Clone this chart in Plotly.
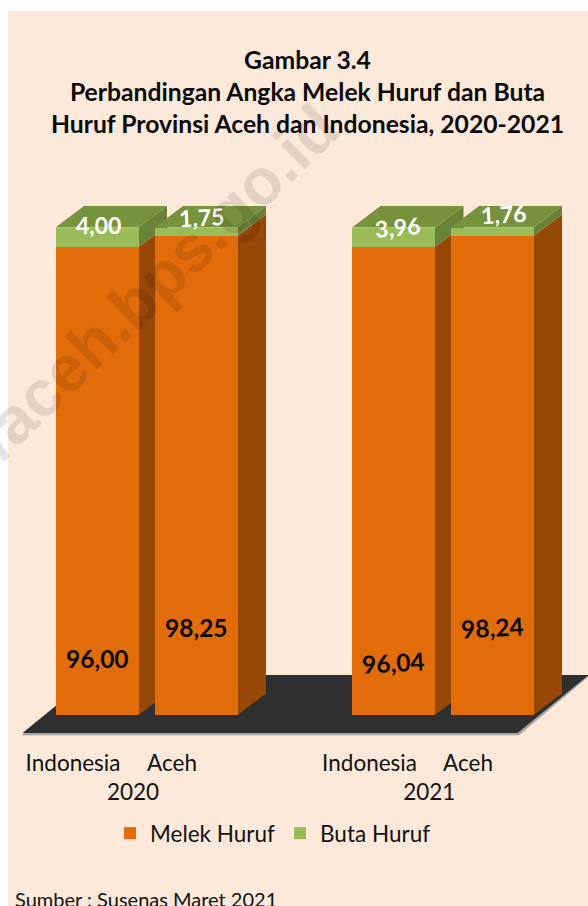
import plotly.graph_objects as go

# Literacy figures by year and region
categories = ["Indonesia", "Aceh", "Indonesia", "Aceh"]
years = ["2020", "2021"]
melek_huruf = [96.00, 98.25, 96.04, 98.24]
buta_huruf = [4.00, 1.75, 3.96, 1.76]

ORANGE, ORANGE_SIDE = "#E36C0A", "#974706"
GREEN, GREEN_TOP, GREEN_SIDE = "#9BBB59", "#76923C", "#6A8238"
PANEL = "#FDE9DA"
FONT = "Lato"

W, H = 588, 906
BASE_PX, PX_PER_UNIT = 715, 4.875
PLOT_BOTTOM_PX = 741

bar_centers = [97, 196, 393.5, 492]
bar_width = 83
depth_x, depth_y = 28.5, 21.5 / PX_PER_UNIT
label_shift = -24
floor_front, floor_back = -18 / PX_PER_UNIT, 40 / PX_PER_UNIT
floor_left, floor_right, floor_dx = 22.5, 517.5, 71


def fmt(v):
    return f"{v:.2f}".replace(".", ",")


def paper_y(px):
    # Paper fractions are measured over the plot area, which ends above the page bottom
    return 1 - px / PLOT_BOTTOM_PX


def poly(points, color):
    path = "M" + "L".join(f"{x},{y}" for x, y in points) + "Z"
    return dict(type="path", path=path, xref="x", yref="y", layer="below",
                fillcolor=color, line=dict(width=0))


shapes = [
    # Page panel
    dict(type="rect", xref="paper", yref="paper", x0=8 / W, x1=1, y0=paper_y(H), y1=paper_y(11),
         fillcolor=PANEL, line=dict(width=0), layer="below"),
    # Floor with its pale rim, then the dark surface
    poly([(floor_left - 1, floor_front - 0.45), (floor_right + 1.5, floor_front - 0.45),
          (floor_right + floor_dx + 2, floor_back),
          (floor_left + floor_dx, floor_back)], "#A8A39E"),
    poly([(floor_left, floor_front), (floor_right, floor_front),
          (floor_right + floor_dx, floor_back), (floor_left + floor_dx, floor_back)], "#2F2F2F"),
]

# Side and top faces of each stacked column, computed from its values
for cx, m, b in zip(bar_centers, melek_huruf, buta_huruf):
    xr = cx + bar_width / 2
    xl = cx - bar_width / 2
    total = m + b
    shapes.append(poly([(xr, 0), (xr + depth_x, depth_y), (xr + depth_x, m + depth_y), (xr, m)], ORANGE_SIDE))
    shapes.append(poly([(xr, m), (xr + depth_x, m + depth_y), (xr + depth_x, total + depth_y), (xr, total)], GREEN_SIDE))
    shapes.append(poly([(xl, total), (xr, total), (xr + depth_x, total + depth_y), (xl + depth_x, total + depth_y)], GREEN_TOP))

fig = go.Figure()
fig.add_bar(x=bar_centers, y=melek_huruf, width=bar_width, name="Melek Huruf",
            marker=dict(color=ORANGE, line=dict(width=0)), hoverinfo="skip")
fig.add_bar(x=bar_centers, y=buta_huruf, width=bar_width, name="Buta Huruf",
            marker=dict(color=GREEN, line=dict(width=0)), hoverinfo="skip")

annotations = []

# Value labels on the orange fronts
melek_label_heights = [11.6, 17.9, 10.8, 17.9]
melek_label_angles = [0, 0, -3, -3]
for cx, v, h, a in zip(bar_centers, melek_huruf, melek_label_heights, melek_label_angles):
    annotations.append(dict(x=cx, y=h, xref="x", yref="y", text=f"<b>{fmt(v)}</b>", showarrow=False,
                            textangle=a, font=dict(family=FONT, size=24.5, color="#0A0A0A")))

# Value labels on the green tops
buta_label_dx = [1, 5, 3.5, 11]
buta_label_heights = [100.5, 102.1, 100.1, 102.7]
buta_label_angles = [0, -3, -5, -3]
for cx, v, dx, h, a in zip(bar_centers, buta_huruf, buta_label_dx, buta_label_heights, buta_label_angles):
    annotations.append(dict(x=cx + dx, y=h, xref="x", yref="y", text=f"<b>{fmt(v)}</b>", showarrow=False,
                            textangle=a, font=dict(family=FONT, size=23, color="white")))

annotations.append(dict(x=13 / W, y=paper_y(899), xref="paper", yref="paper", xanchor="left", yanchor="middle",
                        text="Sumber : Susenas Maret 2021", showarrow=False,
                        font=dict(family=FONT, size=20, color="#111111")))

# Diagonal site watermark over everything
annotations.append(dict(x=356 / W, y=paper_y(87), xref="paper", yref="paper", xanchor="right", yanchor="top",
                        text="<b>https://aceh.bps.go.id</b>",
                        showarrow=False, textangle=-44,
                        font=dict(family="Liberation Sans", size=65, color="rgba(0,0,0,0.1)")))

label_x = [c + label_shift for c in bar_centers]
year_x = [(label_x[0] + label_x[1]) / 2 + 10.5, (label_x[2] + label_x[3]) / 2 + 10.5]
tickvals = label_x + year_x
ticktext = categories + [f"<br>{y}" for y in years]

fig.update_layout(
    width=W, height=H, barmode="stack",
    margin=dict(l=0, r=0, t=0, b=H - PLOT_BOTTOM_PX, autoexpand=False),
    paper_bgcolor="white", plot_bgcolor="rgba(0,0,0,0)",
    title=dict(
        text="<b>Gambar 3.4<br>Perbandingan Angka Melek Huruf dan Buta<br>Huruf Provinsi Aceh dan Indonesia, 2020-2021</b>",
        x=307.5 / W, xanchor="center", y=1 - 68.5 / H, yanchor="top", yref="container",
        font=dict(family=FONT, size=24.7, color="#0A0A0A"),
    ),
    xaxis=dict(range=[0, W], tickvals=tickvals, ticktext=ticktext, showgrid=False, zeroline=False,
               showline=False, ticks="", ticklabelstandoff=6,
               tickfont=dict(family=FONT, size=22.5, color="#111111")),
    yaxis=dict(range=[-(PLOT_BOTTOM_PX - BASE_PX) / PX_PER_UNIT, BASE_PX / PX_PER_UNIT],
               visible=False),
    legend=dict(orientation="h", x=110 / W, y=paper_y(812), xanchor="left", yanchor="top",
                bgcolor="rgba(0,0,0,0)", font=dict(family=FONT, size=22.5, color="#111111"),
                traceorder="normal"),
    shapes=shapes, annotations=annotations,
)

fig.write_html("out.html", config={"displayModeBar": False})
